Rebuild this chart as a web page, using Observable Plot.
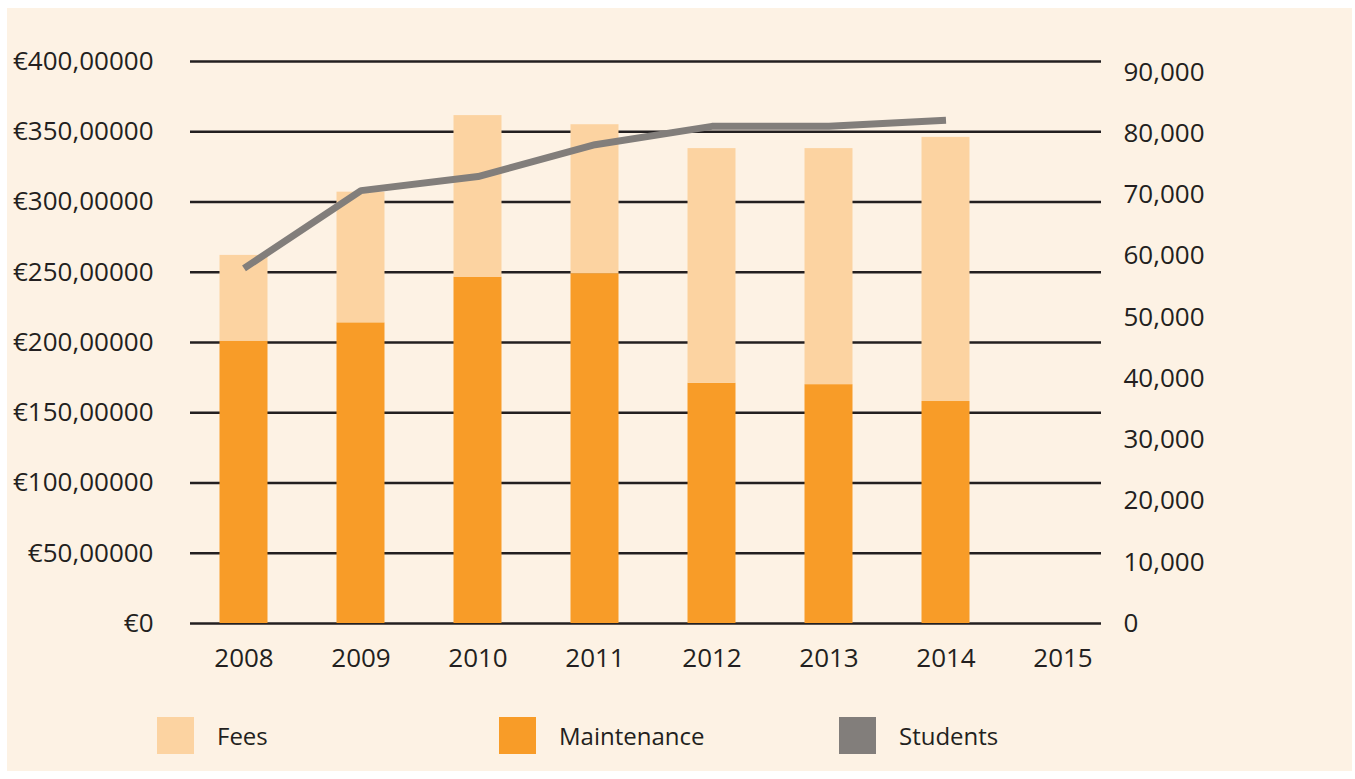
<!DOCTYPE html>
<html>
<head>
<meta charset="utf-8">
<script src="https://cdn.jsdelivr.net/npm/d3@7"></script>
<script src="https://cdn.jsdelivr.net/npm/@observablehq/plot@0.6"></script>
<style>
  html, body { margin: 0; padding: 0; background: #ffffff; }
  #card {
    position: absolute; left: 7px; top: 8px; width: 1345px; height: 763px;
    background: #fdf2e4; font-family: "Open Sans", sans-serif; color: #231f20;
  }
  #legend { position: absolute; left: 0; top: 685px; width: 1345px; height: 78px; }
  .item { position: absolute; top: 24px; display: flex; align-items: center; font-size: 24px; }
  .sw { width: 37px; height: 37px; margin-right: 23px; }
</style>
</head>
<body>
<div id="card"><div id="chart"></div><div id="legend"></div></div>
<script>
const years = ["2008", "2009", "2010", "2011", "2012", "2013", "2014", "2015"];
const dataYears = ["2008", "2009", "2010", "2011", "2012", "2013", "2014"];
const maintenance = [201, 214, 246.5, 249, 171, 170, 158];
const fees = [61, 93, 115, 106, 167, 168, 188];
const students = [58000, 70700, 73000, 78200, 81200, 81200, 82200];

const leftTicks = [0, 50, 100, 150, 200, 250, 300, 350, 400];
const leftTickLabels = ["€0", "€50,00000", "€100,00000", "€150,00000", "€200,00000",
  "€250,00000", "€300,00000", "€350,00000", "€400,00000"];
const studentTicks = [0, 10000, 20000, 30000, 40000, 50000, 60000, 70000, 80000, 90000];

const seriesNames = ["Fees", "Maintenance", "Students"];
const seriesColors = ["#fcd3a1", "#f89c28", "#827e7b"];

// right axis (students) expressed in left-axis units
const f = 392.2 / 90000;

const bars = [];
dataYears.forEach((y, i) => bars.push({year: y, series: "Maintenance", value: maintenance[i]}));
dataYears.forEach((y, i) => bars.push({year: y, series: "Fees", value: fees[i]}));
const line = dataYears.map((y, i) => ({year: y, students: students[i]}));

const chart = Plot.plot({
  width: 1345,
  height: 685,
  marginLeft: 183,
  marginRight: 251,
  marginTop: 53,
  marginBottom: 70,
  style: {background: "transparent", fontFamily: "Open Sans, sans-serif", fontSize: "26px", color: "#231f20"},
  x: {type: "band", domain: years, range: [177.5, 1113.5], padding: 0},
  y: {domain: [0, 400]},
  color: {domain: seriesNames, range: seriesColors},
  marks: [
    Plot.ruleY(leftTicks, {stroke: "#231f20", strokeWidth: 2.5}),
    Plot.barY(bars, {x: "year", y: "value", fill: "series", insetLeft: 34.5, insetRight: 34.5}),
    Plot.line(line, {x: "year", y: d => d.students * f, stroke: seriesColors[2], strokeWidth: 7,
      strokeLinecap: "butt", strokeLinejoin: "miter"}),
    Plot.axisY(leftTicks, {anchor: "left", tickSize: 0, tickPadding: 37, label: null,
      tickFormat: (d, i) => leftTickLabels[leftTicks.indexOf(d)]}),
    Plot.axisY(studentTicks.map(s => s * f), {anchor: "right", tickSize: 0, tickPadding: 22, label: null,
      textAnchor: "start", tickFormat: d => d3.format(",")(Math.round(d / f / 1000) * 1000)}),
    Plot.axisX({anchor: "bottom", tickSize: 0, tickPadding: 25, label: null})
  ]
});
document.getElementById("chart").appendChild(chart);

const legend = document.getElementById("legend");
const legendX = [150, 492, 832];
seriesNames.forEach((name, i) => {
  const it = document.createElement("div");
  it.className = "item";
  it.style.left = legendX[i] + "px";
  const sw = document.createElement("div");
  sw.className = "sw";
  sw.style.background = seriesColors[i];
  const t = document.createElement("span");
  t.textContent = name;
  it.appendChild(sw); it.appendChild(t);
  legend.appendChild(it);
});
</script>
</body>
</html>
